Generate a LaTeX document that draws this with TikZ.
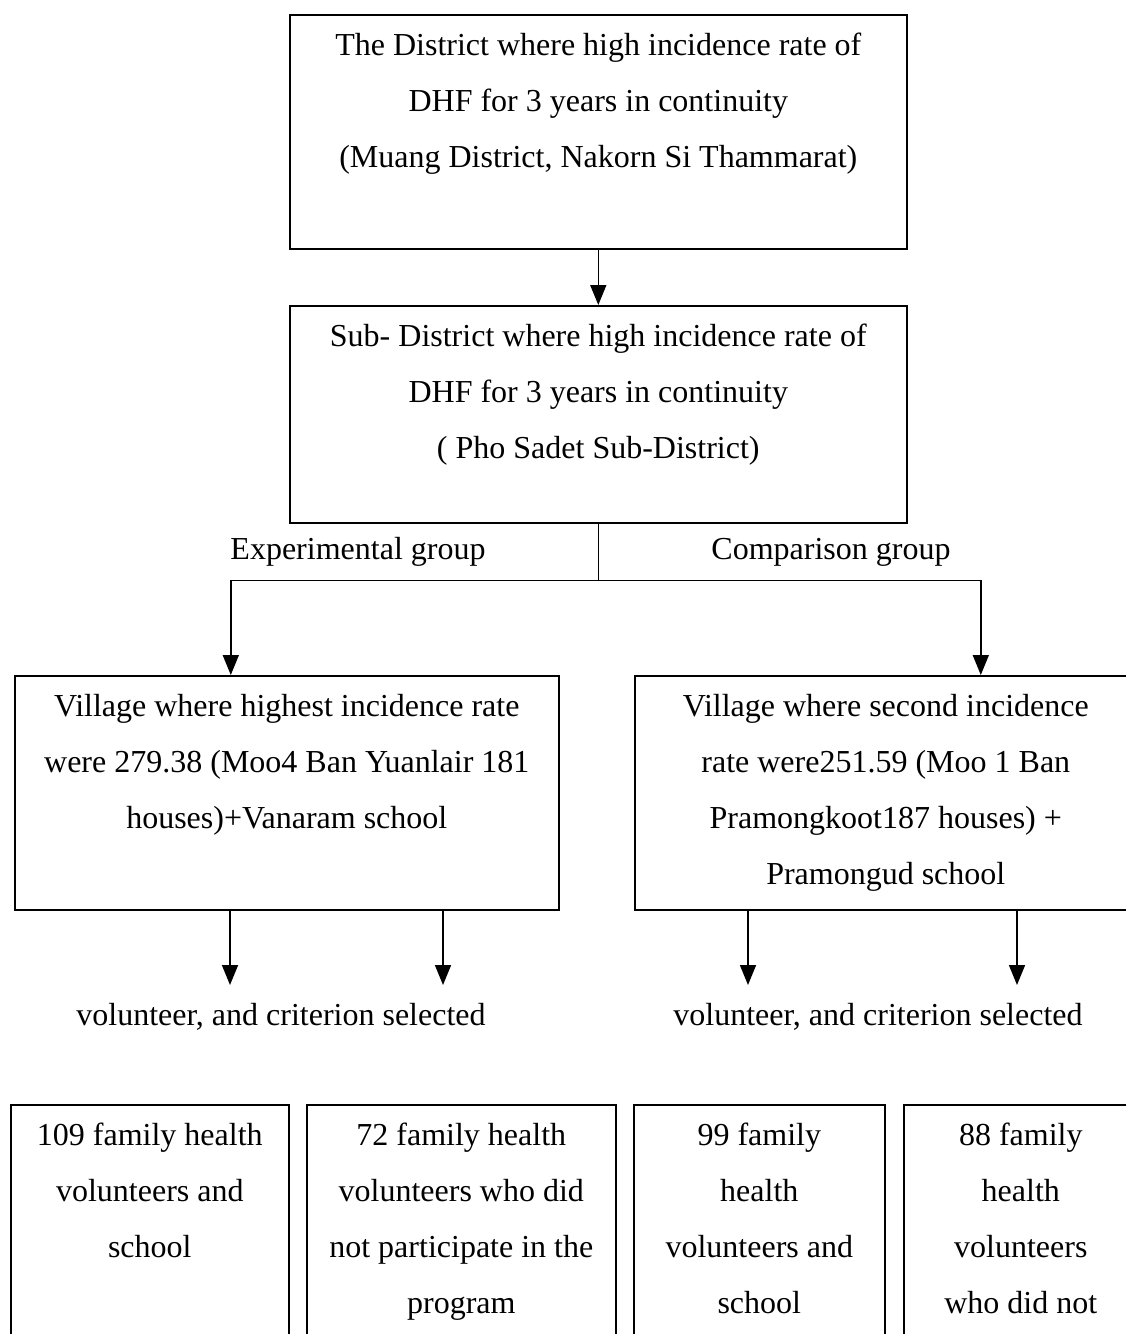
\documentclass[tikz,border=0pt]{standalone}
\usepackage{fontspec}
\setmainfont{Liberation Serif}
\usetikzlibrary{positioning,arrows.meta}
\tikzset{
    caja/.style={draw, line width=1.6pt, anchor=north west},
    texto/.style={font=\fontsize{32}{56}\selectfont, align=center, inner sep=0pt},
    flecha/.style={line width=1.6pt, -{Triangle[length=20pt,width=16pt]}},
    linea/.style={line width=1.6pt}
}
\begin{document}
\begin{tikzpicture}[x=1pt,y=-1pt]
    \useasboundingbox (0,0) rectangle (1126,1334);

    % Distrito
    \node[caja, minimum width=617pt, minimum height=234pt] (distrito) at (289,14) {};
    \node[texto, below=19pt of distrito.north] (distritotxt) {The District where high incidence rate of\\DHF for 3 years in continuity\\(Muang District, Nakorn Si Thammarat)};

    % Subdistrito
    \node[caja, minimum width=617pt, minimum height=217pt] (subdistrito) at (289,305) {};
    \node[texto, below=19pt of subdistrito.north] (subdistritotxt) {Sub- District where high incidence rate of\\DHF for 3 years in continuity\\( Pho Sadet Sub-District)};
    \draw[flecha] (distrito.south) -- (subdistrito.north);

    % Grupos
    \node[caja, minimum width=544pt, minimum height=234pt] (aldeaexp) at (14,675) {};
    \node[texto, below=19pt of aldeaexp.north] (aldeaexptxt) {Village where highest incidence rate\\were 279.38 (Moo4 Ban Yuanlair 181\\houses)+Vanaram school};
    \node[caja, minimum width=502pt, minimum height=234pt] (aldeacmp) at (634,675) {};
    \node[texto, below=19pt of aldeacmp.north] (aldeacmptxt) {Village where second incidence\\rate were251.59 (Moo 1 Ban\\Pramongkoot187 houses) +\\Pramongud school};

    \coordinate (split) at ([yshift=-57pt]subdistrito.south);
    \draw[linea] (subdistrito.south) -- (split);
    \draw[flecha] (split) -| ([xshift=-56pt]aldeaexp.north);
    \draw[flecha] (split) -| ([xshift=95pt]aldeacmp.north);
    \node[texto] (lblexp) at (358,552) {Experimental group};
    \node[texto] (lblcmp) at (831,552) {Comparison group};

    % Seleccion
    \coordinate (a1) at (230,985);
    \coordinate (a2) at (443,985);
    \coordinate (a3) at (748,985);
    \coordinate (a4) at (1017,985);
    \draw[flecha] (aldeaexp.south -| a1) -- (a1);
    \draw[flecha] (aldeaexp.south -| a2) -- (a2);
    \draw[flecha] (aldeacmp.south -| a3) -- (a3);
    \draw[flecha] (aldeacmp.south -| a4) -- (a4);
    \node[texto] (selexp) at (281,1017) {volunteer, and criterion selected};
    \node[texto] (selcmp) at (878,1017) {volunteer, and criterion selected};

    % Cajas de abajo
    \node[caja, minimum width=278pt, minimum height=260pt] (vexp) at (10,1104) {};
    \node[texto, below=19pt of vexp.north] {109 family health\\volunteers and\\school};
    \node[caja, minimum width=309pt, minimum height=260pt] (nexp) at (306,1104) {};
    \node[texto, below=19pt of nexp.north] {72 family health\\volunteers who did\\not participate in the\\program};
    \node[caja, minimum width=251pt, minimum height=260pt] (vcmp) at (633,1104) {};
    \node[texto, below=19pt of vcmp.north] {99 family\\health\\volunteers and\\school};
    \node[caja, minimum width=234pt, minimum height=260pt] (ncmp) at (903,1104) {};
    \node[texto, below=19pt of ncmp.north] {88 family\\health\\volunteers\\who did not};
\end{tikzpicture}
\end{document}
